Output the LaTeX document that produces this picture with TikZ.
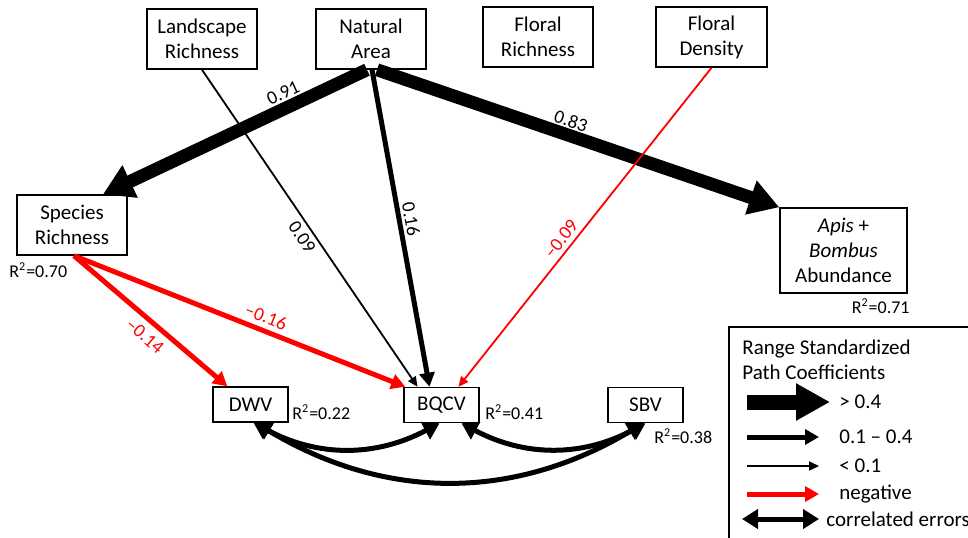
\documentclass[tikz,border=0pt]{standalone}
\usepackage{fontspec}
\setmainfont{Carlito}
\usetikzlibrary{arrows.meta,calc}
\begin{document}
\begin{tikzpicture}[x=0.5pt,y=-0.5pt,
  box/.style={draw, line width=0.75pt, inner sep=0pt, align=center,
    font=\fontsize{10.5}{12.5}\selectfont},
  bigbox/.style={box, minimum width=55pt, minimum height=30pt},
  smallbox/.style={box, minimum width=37.5pt, minimum height=17.5pt},
  bigarr/.style={line width=6.5pt, -{Triangle[length=15pt,width=17pt]}},
  midarr/.style={line width=2.5pt, -{Triangle[length=7pt,width=7.5pt]}},
  thinarr/.style={line width=0.9pt, -{Triangle[length=5pt,width=4.5pt]}},
  corr/.style={line width=2.5pt, {Triangle[length=8pt,width=9.5pt]}-{Triangle[length=8pt,width=9.5pt]}},
  coef/.style={font=\fontsize{9.5}{10}\selectfont, inner sep=0pt},
  rsq/.style={font=\fontsize{9}{10}\selectfont, inner sep=0pt},
  legtext/.style={font=\fontsize{10.5}{12.5}\selectfont, inner sep=0pt, anchor=west, align=left}]
\useasboundingbox (0,0) rectangle (968,537);

% nodes
\node[bigbox] (la) at (202,39) {Landscape\\Richness};
\node[bigbox] (na) at (371,39) {Natural\\Area};
\node[bigbox] (fr) at (538,37) {Floral\\Richness};
\node[bigbox, minimum width=55.5pt] (fd) at (711.5,37) {Floral\\Density};
\node[bigbox] (sp) at (72,225) {Species\\Richness};
\node[box, minimum width=63.5pt, minimum height=42.5pt] (ap) at (843.5,250.5) {\textit{Apis} +\\\textit{Bombus}\\Abundance};
\node[smallbox] (dw) at (250.5,404.5) {DWV};
\node[smallbox] (bq) at (441.5,405) {BQCV};
\node[smallbox] (sb) at (645.5,405) {SBV};

% R squared
\node[rsq, anchor=west] (r1) at (9,270) {R\textsuperscript{2}=0.70};
\node[rsq, anchor=east] (r2) at (910,306) {R\textsuperscript{2}=0.71};
\node[rsq, anchor=west] (r3) at (292,412) {R\textsuperscript{2}=0.22};
\node[rsq, anchor=west] (r4) at (485,412) {R\textsuperscript{2}=0.41};
\node[rsq, anchor=west] (r5) at (654,436) {R\textsuperscript{2}=0.38};

% paths
\draw[thinarr] (la.south) -- ($(bq.north)+(-24,0)$);
\draw[midarr] ($(na.south)+(1,0)$) -- ($(bq.north)+(-12,0)$);
\draw[bigarr] ($(na.south)+(-4,0)$) -- ($(sp.north)+(31,0)$);
\draw[bigarr] ($(na.south)+(6,0)$) -- (ap.north west);
\draw[thinarr, red] (fd.south) -- ($(bq.north)+(17,0)$);
\draw[midarr, red] ($(sp.south)+(2,0)$) -- ($(dw.north west)+(15,0)$);
\draw[midarr, red] ($(sp.south)+(2,0)$) -- ($(bq.north west)+(2,0)$);

% correlated errors
\draw[corr] ($(dw.south)+(3,0)$) to[bend right=28] ($(bq.south)+(-2,0)$);
\draw[corr] ($(bq.south)+(20,0)$) to[bend right=28] (sb.south);
\draw[corr] ($(dw.south)+(5,0)$) to[bend right=31] ($(sb.south)+(-2,0)$);

% coefficients
\node[coef, rotate=24.8] (c1) at (283,93) {0.91};
\node[coef, rotate=-55.9] (c2) at (302,237) {0.09};
\node[coef, rotate=-79.7] (c3) at (411,219) {0.16};
\node[coef, rotate=-18.9] (c4) at (571,121) {0.83};
\node[coef, rotate=51.7, text=red] (c5) at (561,239) {–0.09};
\node[coef, rotate=-41, text=red] (c6) at (145,336) {–0.14};
\node[coef, rotate=-21.7, text=red] (c7) at (266,317) {–0.16};

% legend
\draw[line width=0.75pt] (729,327) rectangle (1000,560);
\node[legtext] (lt) at (742,359.5) {Range Standardized\\Path Coefficients};
\coordinate (l1a) at (747,402); \coordinate (l1b) at (830,402);
\coordinate (l2a) at (747,437); \coordinate (l2b) at (819,437);
\coordinate (l3a) at (747,466); \coordinate (l3b) at (819,466);
\coordinate (l4a) at (747,494); \coordinate (l4b) at (819,494);
\coordinate (l5a) at (742,519); \coordinate (l5b) at (819,519);
\draw[line width=7.5pt, -{Triangle[length=17pt,width=17.5pt]}] (l1a) -- (l1b);
\draw[midarr] (l2a) -- (l2b);
\draw[thinarr] (l3a) -- (l3b);
\draw[midarr, red] (l4a) -- (l4b);
\draw[corr] (l5a) -- (l5b);
\node[legtext] (t1) at (839,402) {> 0.4};
\node[legtext] (t2) at (839,437) {0.1 – 0.4};
\node[legtext] (t3) at (839,466) {< 0.1};
\node[legtext] (t4) at (839,494) {negative};
\node[legtext] (t5) at (826,519) {correlated errors};
\end{tikzpicture}
\end{document}
